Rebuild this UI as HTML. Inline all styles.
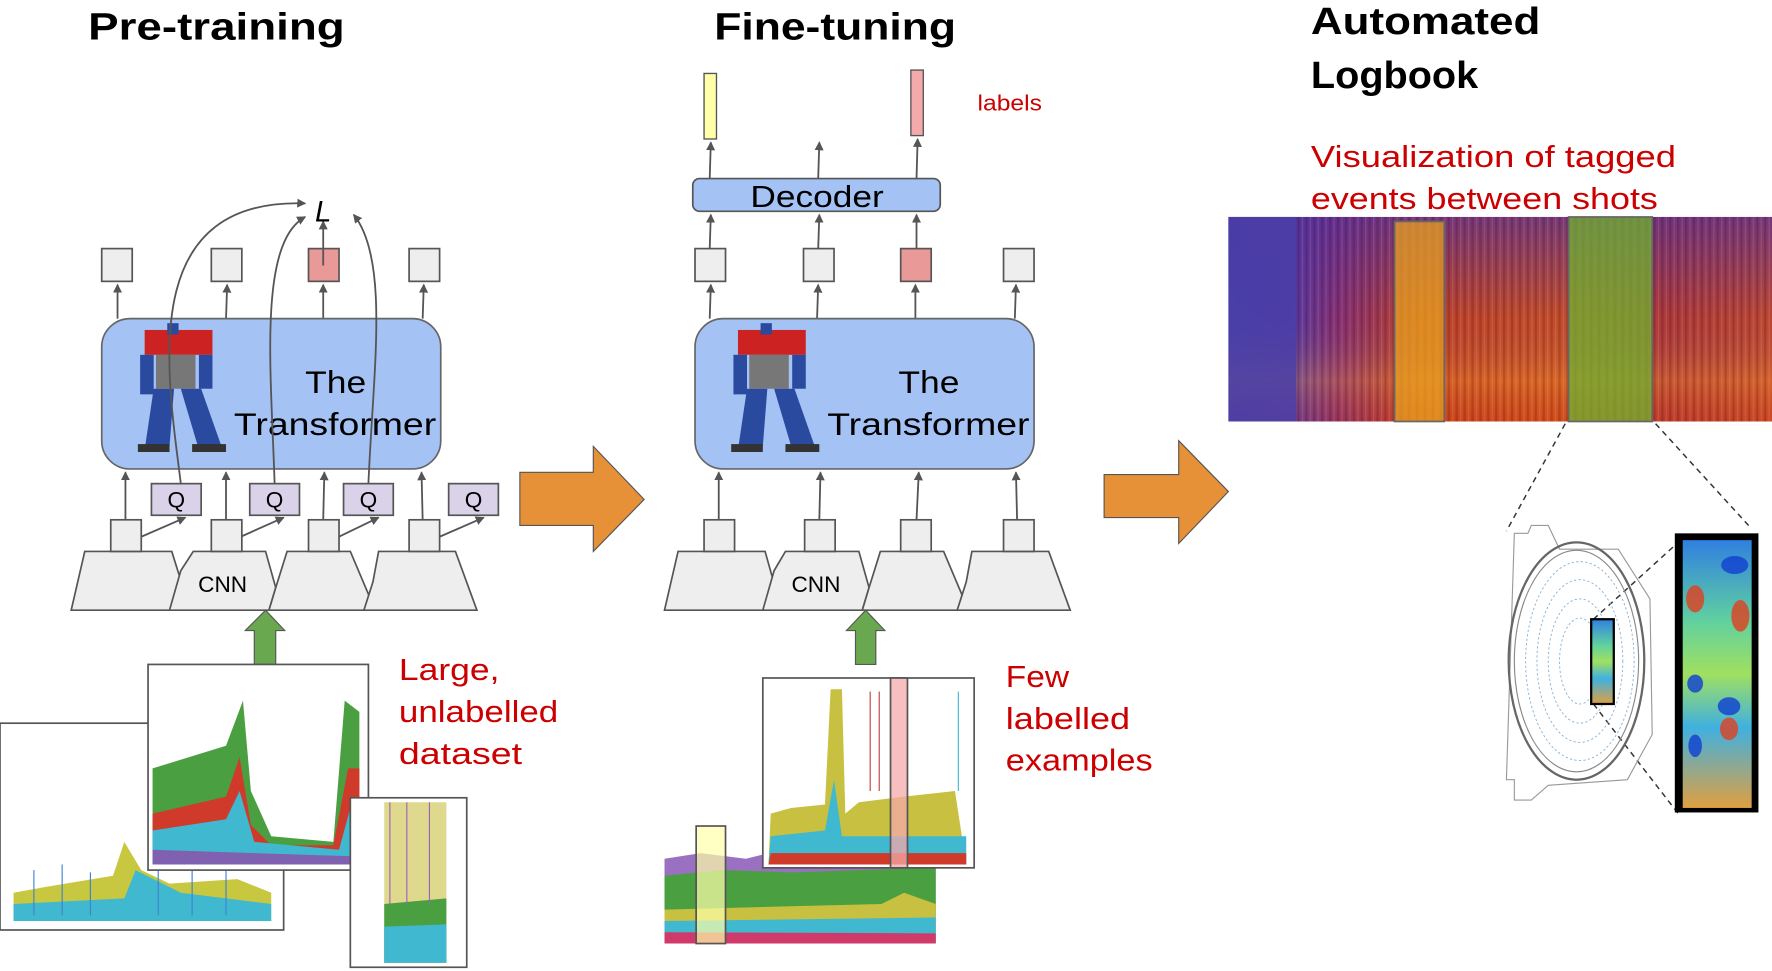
<!DOCTYPE html>
<html><head><meta charset="utf-8"><style>
html,body{margin:0;padding:0;background:#fff;}
svg{display:block;}
text{font-family:"Liberation Sans",sans-serif;}
.t{font-weight:bold;font-size:34px;fill:#000;}
.r{fill:#c00;font-size:27px;}
.tr{font-size:28px;fill:#000;}
.ln{stroke:#555;stroke-width:1.6;fill:none;}
.bx{fill:#eee;stroke:#555;stroke-width:1.5;}
</style></head><body>
<svg width="1772" height="971" viewBox="0 0 1568 859.3" preserveAspectRatio="none" xmlns="http://www.w3.org/2000/svg">
<defs>
<marker id="a" markerWidth="8" markerHeight="8" refX="7" refY="4" orient="auto" markerUnits="userSpaceOnUse"><path d="M0,0 L8,4 L0,8 z" fill="#555"/></marker>
<linearGradient id="spec" x1="0" y1="0" x2="1" y2="0">
<stop offset="0" stop-color="#4a3fa8"/><stop offset="0.12" stop-color="#5a3aa0"/><stop offset="0.2" stop-color="#8a2f70"/><stop offset="0.35" stop-color="#c8431f"/><stop offset="0.6" stop-color="#d0501e"/><stop offset="0.8" stop-color="#b83a30"/><stop offset="1" stop-color="#c84a28"/>
</linearGradient>
<linearGradient id="specv" x1="0" y1="0" x2="0" y2="1">
<stop offset="0" stop-color="#5030a0" stop-opacity="0.7"/><stop offset="0.5" stop-color="#5030a0" stop-opacity="0.1"/><stop offset="0.8" stop-color="#f0a040" stop-opacity="0.3"/><stop offset="1" stop-color="#d04020" stop-opacity="0.2"/>
</linearGradient>
<pattern id="stripes" width="7" height="10" patternUnits="userSpaceOnUse"><rect x="0" y="0" width="2" height="10" fill="#300" opacity="0.18"/><rect x="4" y="0" width="1" height="10" fill="#fc8" opacity="0.15"/></pattern>
<linearGradient id="jet" x1="0" y1="0" x2="0" y2="1">
<stop offset="0" stop-color="#3080e0"/><stop offset="0.3" stop-color="#60d0a0"/><stop offset="0.5" stop-color="#a0e060"/><stop offset="0.7" stop-color="#40b0e0"/><stop offset="1" stop-color="#e0a040"/>
</linearGradient>
</defs>

<!-- titles -->
<text x="78" y="35" class="t" textLength="227" lengthAdjust="spacingAndGlyphs">Pre-training</text>
<text x="632" y="35" class="t" textLength="214" lengthAdjust="spacingAndGlyphs">Fine-tuning</text>
<text x="1160" y="30" class="t" textLength="203" lengthAdjust="spacingAndGlyphs">Automated</text>
<text x="1160" y="78" class="t" textLength="148" lengthAdjust="spacingAndGlyphs">Logbook</text>

<!-- ========== PRE-TRAINING ========== -->
<rect x="90" y="220" width="27" height="29" class="bx"/>
<rect x="187" y="220" width="27" height="29" class="bx"/>
<rect x="273" y="220" width="27" height="29" fill="#ea9999" stroke="#555" stroke-width="1.5"/>
<rect x="362" y="220" width="27" height="29" class="bx"/>
<line x1="104" y1="282" x2="104" y2="252" class="ln" marker-end="url(#a)"/>
<line x1="200" y1="282" x2="201" y2="252" class="ln" marker-end="url(#a)"/>
<line x1="286" y1="282" x2="286" y2="252" class="ln" marker-end="url(#a)"/>
<line x1="374" y1="282" x2="375" y2="252" class="ln" marker-end="url(#a)"/>
<line x1="286" y1="235" x2="286" y2="196" class="ln" marker-end="url(#a)"/>
<text x="286" y="196" font-family="Liberation Serif" font-style="italic" font-size="26" text-anchor="middle">L</text>

<rect x="90" y="282" width="300" height="133" rx="25" fill="#a4c2f4" stroke="#666" stroke-width="1.5"/>
<g>
<rect x="128" y="292" width="60" height="22" fill="#cc2222"/>
<rect x="148" y="286" width="10" height="10" fill="#2a4aa0"/>
<rect x="138" y="314" width="35" height="30" fill="#777"/>
<rect x="124" y="314" width="12" height="35" fill="#2a4aa0"/>
<rect x="176" y="314" width="12" height="30" fill="#2a4aa0"/>
<path d="M136,344 L154,344 L150,395 L128,398 Z" fill="#2a4aa0"/>
<path d="M160,344 L178,344 L196,395 L176,398 Z" fill="#2a4aa0"/>
<rect x="122" y="393" width="28" height="7" fill="#333"/>
<rect x="170" y="393" width="30" height="7" fill="#333"/>
</g>
<text x="270" y="348" class="tr" textLength="54" lengthAdjust="spacingAndGlyphs">The</text>
<text x="207" y="385" class="tr" textLength="179" lengthAdjust="spacingAndGlyphs">Transformer</text>

<path d="M160,428 C148,330 120,175 270,180" class="ln" marker-end="url(#a)"/>
<path d="M243,428 C240,330 228,215 270,192" class="ln" marker-end="url(#a)"/>
<path d="M326,428 C330,330 345,230 313,190" class="ln" marker-end="url(#a)"/>

<rect x="134" y="428" width="44" height="28" fill="#d9d2e9" stroke="#555" stroke-width="1.5"/>
<rect x="221" y="428" width="44" height="28" fill="#d9d2e9" stroke="#555" stroke-width="1.5"/>
<rect x="304" y="428" width="44" height="28" fill="#d9d2e9" stroke="#555" stroke-width="1.5"/>
<rect x="397" y="428" width="44" height="28" fill="#d9d2e9" stroke="#555" stroke-width="1.5"/>
<g font-size="20" text-anchor="middle"><text x="156" y="449">Q</text><text x="243" y="449">Q</text><text x="326" y="449">Q</text><text x="419" y="449">Q</text></g>

<line x1="111" y1="460" x2="111" y2="418" class="ln" marker-end="url(#a)"/>
<line x1="200" y1="460" x2="200" y2="418" class="ln" marker-end="url(#a)"/>
<line x1="286" y1="460" x2="287" y2="418" class="ln" marker-end="url(#a)"/>
<line x1="374" y1="460" x2="373" y2="418" class="ln" marker-end="url(#a)"/>
<line x1="125" y1="475" x2="164" y2="458" class="ln" marker-end="url(#a)"/>
<line x1="213" y1="475" x2="251" y2="458" class="ln" marker-end="url(#a)"/>
<line x1="300" y1="475" x2="335" y2="458" class="ln" marker-end="url(#a)"/>
<line x1="389" y1="475" x2="428" y2="458" class="ln" marker-end="url(#a)"/>

<path d="M75,488 L152,488 L162,520 L152,540 L63,540 Z" class="bx"/>
<path d="M171,488 L235,488 L244,520 L238,540 L150,540 L160,505 Z" class="bx"/>
<path d="M254,488 L310,488 L332,540 L238,540 L244,520 Z" class="bx"/>
<path d="M335,488 L403,488 L422,540 L322,540 L330,515 Z" class="bx"/>
<text x="197" y="524" font-size="20" text-anchor="middle">CNN</text>
<rect x="98" y="460" width="27" height="28" class="bx"/>
<rect x="187" y="460" width="27" height="28" class="bx"/>
<rect x="273" y="460" width="27" height="28" class="bx"/>
<rect x="362" y="460" width="27" height="28" class="bx"/>

<path d="M225,588 L225,558 L217,558 L235,540 L252,558 L244,558 L244,588 Z" fill="#6aa84f" stroke="#555" stroke-width="1"/>

<!-- plots left -->
<rect x="0" y="640" width="251" height="183" fill="#fff" stroke="#555" stroke-width="1.5"/>
<path d="M12,810 L12,790 L40,785 L70,780 L100,775 L110,745 L125,770 L150,782 L180,780 L210,778 L240,790 L240,815 L12,815 Z" fill="#c8c840"/>
<path d="M12,815 L12,800 L110,795 L120,770 L160,790 L240,800 L240,815 Z" fill="#40b8d0"/>
<g stroke="#4080d0" stroke-width="1"><line x1="30" y1="810" x2="30" y2="770"/><line x1="55" y1="810" x2="55" y2="765"/><line x1="80" y1="810" x2="80" y2="772"/><line x1="140" y1="810" x2="140" y2="750"/><line x1="170" y1="810" x2="170" y2="760"/><line x1="200" y1="810" x2="200" y2="765"/></g>

<rect x="131" y="588" width="195" height="182" fill="#fff" stroke="#555" stroke-width="1.5"/>
<path d="M135,765 L135,680 L200,660 L215,620 L222,700 L240,740 L295,745 L305,620 L318,630 L318,765 Z" fill="#4aa040"/>
<path d="M135,765 L135,720 L200,705 L212,670 L222,730 L240,748 L295,748 L308,680 L318,680 L318,765 Z" fill="#d03a2a"/>
<path d="M135,765 L135,735 L200,725 L212,700 L225,745 L300,752 L310,715 L318,720 L318,765 Z" fill="#40b8d0"/>
<path d="M135,765 L135,752 L318,758 L318,765 Z" fill="#8060b0"/>

<rect x="310" y="706" width="103" height="150" fill="#fff" stroke="#555" stroke-width="1.5"/>
<path d="M340,852 L340,710 L395,710 L395,852 Z" fill="#c8c040" opacity="0.6"/>
<path d="M340,852 L340,800 L395,795 L395,852 Z" fill="#4aa040"/>
<path d="M340,852 L340,820 L395,818 L395,852 Z" fill="#40b8d0"/>
<g stroke="#a060c0" stroke-width="1"><line x1="345" y1="800" x2="345" y2="710"/><line x1="360" y1="800" x2="360" y2="710"/><line x1="380" y1="800" x2="380" y2="710"/></g>

<text x="353" y="602" class="r" textLength="89" lengthAdjust="spacingAndGlyphs">Large,</text>
<text x="353" y="639" class="r" textLength="141" lengthAdjust="spacingAndGlyphs">unlabelled</text>
<text x="353" y="676" class="r" textLength="109" lengthAdjust="spacingAndGlyphs">dataset</text>

<path d="M460,418 L525,418 L525,395 L570,442 L525,488 L525,465 L460,465 Z" fill="#e69138" stroke="#555" stroke-width="1"/>

<!-- ========== FINE-TUNING ========== -->
<rect x="623" y="65" width="11" height="58" fill="#ffffaa" stroke="#555" stroke-width="1.2"/>
<rect x="806" y="62" width="11" height="58" fill="#f4aaaa" stroke="#555" stroke-width="1.2"/>
<text x="865" y="98" fill="#c00" font-size="20" textLength="57" lengthAdjust="spacingAndGlyphs">labels</text>
<line x1="628" y1="158" x2="629" y2="126" class="ln" marker-end="url(#a)"/>
<line x1="724" y1="158" x2="725" y2="126" class="ln" marker-end="url(#a)"/>
<line x1="811" y1="158" x2="812" y2="123" class="ln" marker-end="url(#a)"/>
<rect x="613" y="158" width="219" height="29" rx="6" fill="#a4c2f4" stroke="#555" stroke-width="1.5"/>
<text x="664" y="183" font-size="27" textLength="118" lengthAdjust="spacingAndGlyphs">Decoder</text>
<rect x="615" y="220" width="27" height="29" class="bx"/>
<rect x="711" y="220" width="27" height="29" class="bx"/>
<rect x="797" y="220" width="27" height="29" fill="#ea9999" stroke="#555" stroke-width="1.5"/>
<rect x="888" y="220" width="27" height="29" class="bx"/>
<line x1="628" y1="220" x2="629" y2="190" class="ln" marker-end="url(#a)"/>
<line x1="724" y1="220" x2="725" y2="190" class="ln" marker-end="url(#a)"/>
<line x1="811" y1="220" x2="811" y2="190" class="ln" marker-end="url(#a)"/>
<line x1="628" y1="282" x2="629" y2="252" class="ln" marker-end="url(#a)"/>
<line x1="723" y1="282" x2="724" y2="252" class="ln" marker-end="url(#a)"/>
<line x1="810" y1="282" x2="810" y2="252" class="ln" marker-end="url(#a)"/>
<line x1="898" y1="282" x2="899" y2="252" class="ln" marker-end="url(#a)"/>

<rect x="615" y="282" width="300" height="133" rx="25" fill="#a4c2f4" stroke="#666" stroke-width="1.5"/>
<g transform="translate(525,0)">
<rect x="128" y="292" width="60" height="22" fill="#cc2222"/>
<rect x="148" y="286" width="10" height="10" fill="#2a4aa0"/>
<rect x="138" y="314" width="35" height="30" fill="#777"/>
<rect x="124" y="314" width="12" height="35" fill="#2a4aa0"/>
<rect x="176" y="314" width="12" height="30" fill="#2a4aa0"/>
<path d="M136,344 L154,344 L150,395 L128,398 Z" fill="#2a4aa0"/>
<path d="M160,344 L178,344 L196,395 L176,398 Z" fill="#2a4aa0"/>
<rect x="122" y="393" width="28" height="7" fill="#333"/>
<rect x="170" y="393" width="30" height="7" fill="#333"/>
</g>
<text x="795" y="348" class="tr" textLength="54" lengthAdjust="spacingAndGlyphs">The</text>
<text x="732" y="385" class="tr" textLength="179" lengthAdjust="spacingAndGlyphs">Transformer</text>

<line x1="636" y1="460" x2="636" y2="418" class="ln" marker-end="url(#a)"/>
<line x1="725" y1="460" x2="726" y2="418" class="ln" marker-end="url(#a)"/>
<line x1="811" y1="460" x2="813" y2="418" class="ln" marker-end="url(#a)"/>
<line x1="900" y1="460" x2="899" y2="418" class="ln" marker-end="url(#a)"/>

<path d="M600,488 L677,488 L686,520 L676,540 L588,540 Z" class="bx"/>
<path d="M695,488 L760,488 L769,520 L763,540 L675,540 L685,505 Z" class="bx"/>
<path d="M779,488 L835,488 L857,540 L763,540 L769,520 Z" class="bx"/>
<path d="M860,488 L928,488 L947,540 L847,540 L855,515 Z" class="bx"/>
<text x="722" y="524" font-size="20" text-anchor="middle">CNN</text>
<rect x="623" y="460" width="27" height="28" class="bx"/>
<rect x="712" y="460" width="27" height="28" class="bx"/>
<rect x="797" y="460" width="27" height="28" class="bx"/>
<rect x="888" y="460" width="27" height="28" class="bx"/>

<path d="M757,588 L757,558 L749,558 L766,540 L783,558 L775,558 L775,588 Z" fill="#6aa84f" stroke="#555" stroke-width="1"/>

<path d="M588,835 L588,760 L620,755 L660,760 L700,750 L760,755 L800,748 L828,750 L828,835 Z" fill="#9a70c0"/>
<path d="M588,835 L588,775 L640,770 L700,772 L760,770 L828,768 L828,835 Z" fill="#4aa040"/>
<path d="M588,835 L588,805 L700,802 L780,800 L800,790 L828,800 L828,835 Z" fill="#c8c040"/>
<path d="M588,835 L588,815 L828,812 L828,835 Z" fill="#40b8d0"/>
<path d="M588,835 L588,825 L828,826 L828,835 Z" fill="#d03a6a"/>
<rect x="616" y="731" width="26" height="104" fill="#ffffaa" fill-opacity="0.7" stroke="#555" stroke-width="1.5"/>

<rect x="675" y="600" width="187" height="168" fill="#fff" stroke="#555" stroke-width="1.5"/>
<path d="M680,765 L682,720 L700,715 L730,712 L735,610 L745,610 L748,720 L760,710 L800,705 L845,700 L855,765 Z" fill="#c8c040"/>
<path d="M680,765 L682,740 L730,735 L738,690 L745,740 L855,740 L855,765 Z" fill="#40b8d0"/>
<path d="M680,765 L682,755 L855,755 L855,765 Z" fill="#d03a2a"/>
<g stroke="#c04040" stroke-width="1"><line x1="770" y1="700" x2="770" y2="612"/><line x1="778" y1="700" x2="778" y2="612"/></g>
<line x1="848" y1="700" x2="848" y2="612" stroke="#40b8d0" stroke-width="1"/>
<rect x="788" y="600" width="15" height="168" fill="#f4aaaa" fill-opacity="0.75" stroke="#555" stroke-width="1.5"/>

<text x="890" y="608" class="r" textLength="56" lengthAdjust="spacingAndGlyphs">Few</text>
<text x="890" y="645" class="r" textLength="110" lengthAdjust="spacingAndGlyphs">labelled</text>
<text x="890" y="682" class="r" textLength="130" lengthAdjust="spacingAndGlyphs">examples</text>

<path d="M977,420 L1043,420 L1043,390 L1087,435 L1043,481 L1043,458 L977,458 Z" fill="#e69138" stroke="#555" stroke-width="1"/>

<!-- ========== LOGBOOK ========== -->
<text x="1160" y="148" class="r" textLength="323" lengthAdjust="spacingAndGlyphs">Visualization of tagged</text>
<text x="1160" y="185" class="r" textLength="307" lengthAdjust="spacingAndGlyphs">events between shots</text>
<rect x="1087" y="192" width="481" height="181" fill="url(#spec)"/>
<rect x="1087" y="192" width="481" height="181" fill="url(#specv)"/>
<rect x="1087" y="192" width="60" height="181" fill="#4a3fa8" opacity="0.8"/>
<rect x="1147" y="192" width="421" height="181" fill="url(#stripes)"/>
<rect x="1234" y="196" width="44" height="177" fill="#e8a020" fill-opacity="0.75" stroke="#666" stroke-width="1.5"/>
<rect x="1388" y="192" width="74" height="181" fill="#70b030" fill-opacity="0.75" stroke="#666" stroke-width="1.5"/>

<g stroke="#333" stroke-width="1.3" stroke-dasharray="5,4" fill="none">
<line x1="1385" y1="375" x2="1333" y2="470"/>
<line x1="1465" y1="375" x2="1550" y2="468"/>
<line x1="1410" y1="548" x2="1485" y2="480"/>
<line x1="1410" y1="623" x2="1485" y2="720"/>
</g>
<path d="M1340,472 L1352,472 L1355,465 L1370,465 L1380,486 L1432,486 L1460,530 L1462,650 L1440,690 L1370,695 L1355,708 L1340,708 L1340,690 L1333,690 Z" fill="none" stroke="#999" stroke-width="1"/>
<ellipse cx="1395" cy="585" rx="60" ry="105" fill="none" stroke="#666" stroke-width="2"/>
<ellipse cx="1395" cy="585" rx="55" ry="98" fill="none" stroke="#888" stroke-width="1"/>
<g fill="none" stroke="#8ab0d0" stroke-width="0.8" stroke-dasharray="2,2">
<ellipse cx="1398" cy="585" rx="48" ry="88"/><ellipse cx="1398" cy="585" rx="38" ry="72"/><ellipse cx="1398" cy="585" rx="28" ry="55"/><ellipse cx="1398" cy="585" rx="18" ry="38"/>
</g>
<rect x="1408" y="548" width="20" height="75" fill="url(#jet)" stroke="#000" stroke-width="2"/>
<rect x="1482" y="472" width="74" height="247" fill="#000"/>
<rect x="1489" y="478" width="61" height="237" fill="url(#jet)"/>
<g fill="#e04020" opacity="0.8"><ellipse cx="1500" cy="530" rx="8" ry="12"/><ellipse cx="1540" cy="545" rx="8" ry="14"/><ellipse cx="1530" cy="645" rx="8" ry="10"/></g>
<g fill="#1040d0" opacity="0.8"><ellipse cx="1535" cy="500" rx="12" ry="8"/><ellipse cx="1500" cy="605" rx="7" ry="8"/><ellipse cx="1530" cy="625" rx="10" ry="8"/><ellipse cx="1500" cy="660" rx="6" ry="10"/></g>
</svg>
</body></html>
